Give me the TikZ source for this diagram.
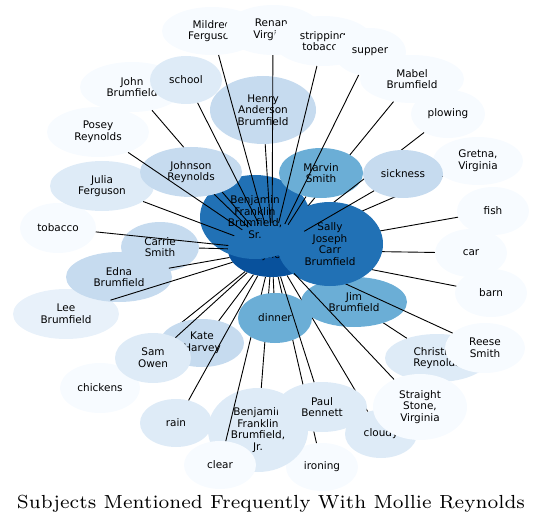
\documentclass[tikz,border=0pt]{standalone}
\usepackage{fontspec}
\usepackage{graphicx}
\usetikzlibrary{shapes.geometric}
\newfontfamily\subjfont{DejaVu Sans}
\definecolor{bluesDeep}{HTML}{08519C}
\definecolor{bluesHub}{HTML}{2171B5}
\definecolor{bluesMid}{HTML}{6BAED6}
\definecolor{bluesLight}{HTML}{C6DBEF}
\definecolor{bluesSoft}{HTML}{DEEBF7}
\definecolor{bluesFaint}{HTML}{E8F1FA}
\definecolor{bluesPale}{HTML}{F7FBFF}

\begin{document}
\begin{tikzpicture}[
  x=1bp, y=-1bp,
  subj/.style={ellipse, inner sep=0pt, align=center, text=black,
    font=\subjfont\fontsize{10.5}{11.7}\selectfont},
  word/.style={subj, minimum width=72bp, minimum height=48bp},
  pair/.style={subj, minimum width=104bp, minimum height=50bp},
  link/.style={draw=black, line width=0.9bp}
]
  \useasboundingbox (0,0) rectangle (543,528);
  % hub, mostly hidden under the two Brumfields
  \node[subj, fill=bluesDeep, minimum width=88bp, minimum height=54bp] (mollie) at (272,250) {Mollie\\Reynolds};
  \node[subj, fill=bluesHub, minimum width=110bp, minimum height=84bp] (bfsr) at (255,217) {Benjamin\\Franklin\\Brumfield,\\Sr.};

  % outer ring
  \node[pair, fill=bluesPale, minimum width=100bp, minimum height=48bp] (mildred) at (212,31) {Mildred\\Ferguson};
  \node[pair, fill=bluesPale, minimum width=96bp] (renan) at (273,30) {Renan,\\Virginia};
  \node[pair, fill=bluesPale, minimum width=100bp] (stripping) at (323,41) {stripping\\tobacco};
  \node[word, fill=bluesPale] (supper) at (370,52) {supper};
  \node[pair, fill=bluesPale, minimum height=48bp] (mabel) at (412,79) {Mabel\\Brumfield};
  \node[word, fill=bluesPale, minimum width=74bp] (plowing) at (448,114) {plowing};
  \node[pair, fill=bluesPale, minimum width=90bp, minimum height=48bp] (gretna) at (478,161) {Gretna,\\Virginia};
  \node[word, fill=bluesPale] (fish) at (493,211) {fish};
  \node[word, fill=bluesPale] (car) at (471,253) {car};
  \node[word, fill=bluesPale] (barn) at (491,293) {barn};
  \node[pair, fill=bluesSoft, minimum height=48bp] (christina) at (437,358) {Christina\\Reynolds};
  \node[pair, fill=bluesPale, minimum width=80bp] (reese) at (485,348) {Reese\\Smith};
  \node[word, fill=bluesSoft] (cloudy) at (381,434) {cloudy};
  \node[subj, fill=bluesPale, minimum width=94bp, minimum height=66bp] (stone) at (420,407) {Straight\\Stone,\\Virginia};
  \node[word, fill=bluesPale] (ironing) at (322,467) {ironing};
  \node[subj, fill=bluesSoft, minimum width=100bp, minimum height=84bp] (bjr) at (258,430) {Benjamin\\Franklin\\Brumfield,\\Jr.};
  \node[word, fill=bluesPale] (clear) at (220,465) {clear};
  \node[word, fill=bluesSoft] (rain) at (176,423) {rain};
  \node[word, fill=bluesPale, minimum width=80bp, minimum height=50bp] (chickens) at (100,388) {chickens};
  \node[pair, fill=bluesFaint, minimum width=106bp] (lee) at (66,314) {Lee\\Brumfield};
  \node[pair, fill=bluesLight, minimum width=106bp] (edna) at (119,277) {Edna\\Brumfield};
  \node[pair, fill=bluesLight, minimum width=78bp] (carrie) at (160,247) {Carrie\\Smith};
  \node[word, fill=bluesPale, minimum width=76bp, minimum height=50bp] (tobacco) at (58,228) {tobacco};
  \node[pair, fill=bluesSoft] (julia) at (102,186) {Julia\\Ferguson};
  \node[pair, fill=bluesPale, minimum width=102bp] (posey) at (98,132) {Posey\\Reynolds};
  \node[pair, fill=bluesPale] (john) at (132,87) {John\\Brumfield};
  \node[word, fill=bluesSoft] (school) at (186,80) {school};
  \node[subj, fill=bluesLight, minimum width=106bp, minimum height=68bp] (henry) at (263,110) {Henry\\Anderson\\Brumfield};

  % links that pass under later nodes
  \foreach \s in {mabel, christina, john, chickens, ironing, bjr, clear, cloudy}
    \draw[link] (\s) -- (mollie);

  \node[subj, fill=bluesMid, minimum width=84bp, minimum height=50bp] (marvin) at (321,173) {Marvin\\Smith};
  \node[pair, fill=bluesMid, minimum width=106bp] (jim) at (354,302) {Jim\\Brumfield};
  \node[word, fill=bluesMid, minimum width=74bp, minimum height=50bp] (dinner) at (275,318) {dinner};
  \node[pair, fill=bluesLight, minimum width=84bp, minimum height=48bp] (kate) at (202,343) {Kate\\Harvey};
  \node[pair, fill=bluesSoft, minimum width=76bp] (sam) at (153,358) {Sam\\Owen};
  \node[pair, fill=bluesLight, minimum width=102bp] (johnson) at (191,172) {Johnson\\Reynolds};
  \node[pair, fill=bluesSoft, minimum width=90bp] (paul) at (322,407) {Paul\\Bennett};

  \foreach \s in {plowing, gretna, reese, fish, car, barn}
    \draw[link] (\s) -- (mollie);

  \node[subj, fill=bluesHub, minimum width=106bp, minimum height=84bp] (sally) at (330,244) {Sally\\Joseph\\Carr\\Brumfield};
  \node[word, fill=bluesLight, minimum width=80bp] (sickness) at (403,174) {sickness};

  \foreach \s in {sickness, marvin, mildred, renan, stripping, supper, henry, school,
                  johnson, posey, julia, tobacco, carrie, edna, lee, kate, sam,
                  rain, dinner, paul, stone}
    \draw[link] (\s) -- (mollie);

  \node[anchor=base, inner sep=0pt, font=\fontsize{7}{8.4}\selectfont] (title) at (271,508.7)
    {\resizebox{508bp}{!}{Subjects Mentioned Frequently With Mollie Reynolds}};
\end{tikzpicture}
\end{document}
